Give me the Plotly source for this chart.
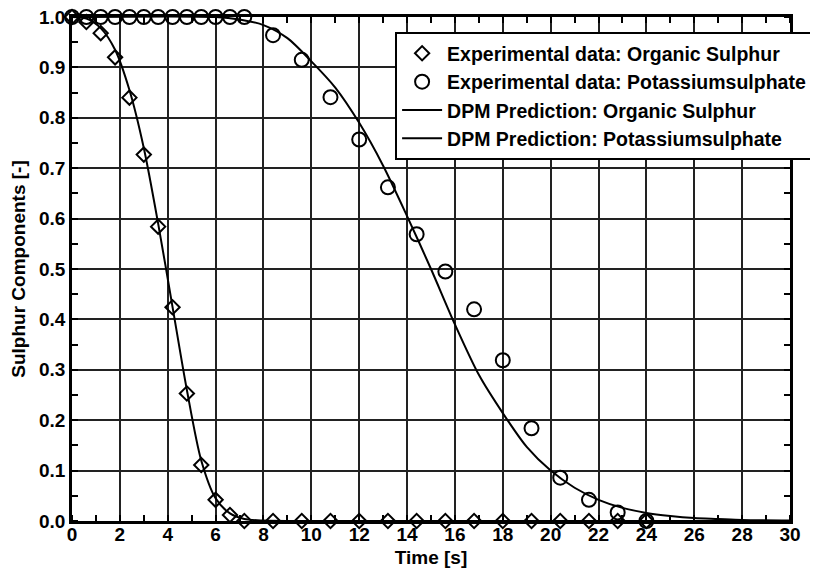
import plotly.graph_objects as go

# experimental points (time in s, fraction remaining)
org_t = [0.0, 0.6, 1.2, 1.8, 2.4, 3.0, 3.6, 4.2, 4.8, 5.4, 6.0, 6.6, 7.2,
         8.4, 9.6, 10.8, 12.0, 13.2, 14.4, 15.6, 16.8, 18.0, 19.2, 20.4, 21.6, 22.8, 24.0]
org_y = [1.0, 0.99, 0.968, 0.92, 0.84, 0.727, 0.584, 0.424, 0.253, 0.111, 0.042, 0.012, 0.0,
         0.0, 0.0, 0.0, 0.0, 0.0, 0.0, 0.0, 0.0, 0.0, 0.0, 0.0, 0.0, 0.0, 0.0]

pot_t = [0.0, 0.6, 1.2, 1.8, 2.4, 3.0, 3.6, 4.2, 4.8, 5.4, 6.0, 6.6, 7.2,
         8.4, 9.6, 10.8, 12.0, 13.2, 14.4, 15.6, 16.8, 18.0, 19.2, 20.4, 21.6, 22.8, 24.0]
pot_y = [1.0, 1.0, 1.0, 1.0, 1.0, 1.0, 1.0, 1.0, 1.0, 1.0, 1.0, 1.0, 1.0,
         0.964, 0.915, 0.841, 0.757, 0.662, 0.569, 0.495, 0.42, 0.319, 0.184, 0.086, 0.042, 0.017, 0.0]

# DPM prediction curves
dpm_org_t = [0.0, 0.6, 1.2, 1.8, 2.4, 3.0, 3.6, 4.2, 4.8, 5.4, 6.0, 6.6, 7.2, 8.0, 10.0, 30.0]
dpm_org_y = [1.0, 0.997, 0.978, 0.935, 0.855, 0.74, 0.59, 0.425, 0.26, 0.12, 0.045, 0.015, 0.004, 0.001, 0.0, 0.0]

dpm_pot_t = [0.0, 6.0, 7.0, 8.0, 9.0, 10.0, 11.0, 12.0, 13.0, 14.0, 15.0, 16.0, 17.0, 18.0,
             19.0, 20.0, 21.0, 22.0, 23.0, 24.0, 25.0, 26.0, 27.0, 28.0, 30.0]
dpm_pot_y = [1.0, 1.0, 0.995, 0.984, 0.958, 0.912, 0.86, 0.79, 0.705, 0.605, 0.50, 0.39, 0.29, 0.214,
             0.147, 0.10, 0.066, 0.042, 0.026, 0.016, 0.010, 0.006, 0.004, 0.002, 0.001]

x_ticks = list(range(0, 31, 2))
y_ticks = [0.0, 0.1, 0.2, 0.3, 0.4, 0.5, 0.6, 0.7, 0.8, 0.9, 1.0]

FONT = "Liberation Sans, Arial, sans-serif"

fig = go.Figure()
fig.add_trace(go.Scatter(
    x=org_t, y=org_y, mode="markers", name="<b>Experimental data: Organic Sulphur</b>",
    legendgroup="a", cliponaxis=False,
    marker=dict(symbol="diamond-open", size=11, color="black", line=dict(width=2, color="black")),
))
fig.add_trace(go.Scatter(
    x=pot_t, y=pot_y, mode="markers", name="<b>Experimental data: Potassiumsulphate</b>",
    legendgroup="b", cliponaxis=False,
    marker=dict(symbol="circle-open", size=14, color="black", line=dict(width=2, color="black")),
))
fig.add_trace(go.Scatter(
    x=dpm_org_t, y=dpm_org_y, mode="lines", name="<b>DPM Prediction: Organic Sulphur</b>",
    legendgroup="c", line=dict(color="black", width=2, shape="spline", smoothing=0.8),
))
fig.add_trace(go.Scatter(
    x=dpm_pot_t, y=dpm_pot_y, mode="lines", name="<b>DPM Prediction: Potassiumsulphate</b>",
    legendgroup="d", line=dict(color="black", width=2, shape="spline", smoothing=0.8),
))

axis_common = dict(
    showline=True, linecolor="black", linewidth=2.5, mirror="allticks",
    showgrid=True, gridcolor="#222222", gridwidth=1.5,
    ticks="", zeroline=False, automargin=False, ticklabeloverflow="allow",
    tickfont=dict(family=FONT, size=19, color="black"),
)

fig.update_xaxes(
    range=[0, 30], tickvals=x_ticks, ticktext=[f"<b>{v}</b>" for v in x_ticks],
    ticklabelstandoff=-6,
    minor=dict(ticks="inside", dtick=1, tick0=0, ticklen=6, tickcolor="black", tickwidth=1.5, showgrid=False),
    title=dict(text="<b>Time [s]</b>", font=dict(family=FONT, size=19, color="black"), standoff=8),
    **axis_common,
)
fig.update_yaxes(
    range=[0, 1], tickvals=y_ticks, ticktext=[f"<b>{v:.1f}</b>" for v in y_ticks],
    minor=dict(ticks="inside", dtick=0.05, tick0=0, ticklen=6, tickcolor="black", tickwidth=1.5, showgrid=False),
    title=dict(text="<b>Sulphur Components [-]</b>", font=dict(family=FONT, size=19, color="black"), standoff=13),
    **axis_common,
)

# page adds an 8px body margin, so the figure is drawn 8px smaller
fig.update_layout(
    width=810, height=564,
    margin=dict(l=64, r=28, t=9, b=51, autoexpand=False),
    plot_bgcolor="white", paper_bgcolor="white",
    showlegend=True,
    legend=dict(
        x=0.450, y=0.97, xanchor="left", yanchor="top",
        bgcolor="white", bordercolor="black", borderwidth=2,
        font=dict(family=FONT, size=19.5, color="black"),
        traceorder="grouped", tracegroupgap=0, itemwidth=40,
    ),
)

fig.write_html("out.html")
